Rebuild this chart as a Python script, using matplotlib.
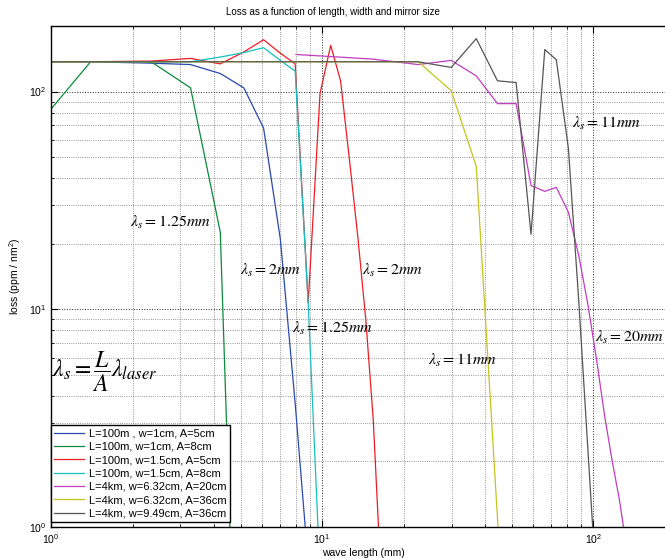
import numpy as np
import matplotlib
matplotlib.use('Agg')
import matplotlib.pyplot as plt

plt.rcParams['font.family'] = ['Liberation Sans', 'DejaVu Sans']
plt.rcParams['mathtext.fontset'] = 'custom'
plt.rcParams['mathtext.rm'] = 'Liberation Sans'
plt.rcParams['mathtext.it'] = 'Liberation Sans:italic'

# wavelength grids (mm)
x_100m = [0.47, 1.40, 2.34, 3.27, 4.21, 5.14, 6.08, 7.01, 7.95, 8.88,
          9.82, 10.75, 11.69, 12.62, 13.56, 14.49, 15.43, 16.36]
x_4km = [0.7, 8.0, 15.3, 22.6, 29.9, 37.0, 44.3, 51.9, 58.9, 66.2,
         73.0, 80.9, 88.3, 95.6, 102.9, 110.2, 117.5, 124.8, 132.1]

# loss (ppm / nm^2)
loss_blue = [137, 137, 135, 133, 121, 104, 68, 21, 3.7, 0.68]
loss_green = [27, 137, 137, 104, 22.6, 0.011]
loss_red = [137, 137, 138, 142, 134, 152, 173, 150, 134, 10.7,
            98, 163, 112, 48, 21, 8.9, 3.1, 0.7]
loss_cyan = [137, 137, 137, 137, 144, 151, 159, 139, 124, 10.7, 0.6]
loss_magenta = [148, 141, 133, 139, 118, 88, 88, 37, 34.8, 36.3,
                27.9, 17.7, 10.4, 5.8, 3.2, 1.99, 1.33, 0.83]
loss_yellow = [137, 137, 137, 137, 101, 45.3, 1.1, 0.03]
loss_gray = [137, 137, 137, 137, 129, 175, 112, 110, 22.1, 156,
             140, 54.8, 11, 2.2, 0.5]

labels = ['L=100m , w=1cm, A=5cm', 'L=100m, w=1cm, A=8cm',
          'L=100m, w=1.5cm, A=5cm', 'L=100m, w=1.5cm, A=8cm',
          'L=4km, w=6.32cm, A=20cm', 'L=4km, w=6.32cm, A=36cm',
          'L=4km, w=9.49cm, A=36cm']

series = [
    (x_100m[:len(loss_blue)], loss_blue, '#2a48b0'),
    (x_100m[:len(loss_green)], loss_green, '#0a8a3a'),
    (x_100m[:len(loss_red)], loss_red, '#ee1c24'),
    (x_100m[:len(loss_cyan)], loss_cyan, '#16c0c0'),
    (x_4km[1:1 + len(loss_magenta)], loss_magenta, '#c03cc0'),
    (x_4km[:len(loss_yellow)], loss_yellow, '#c4c41c'),
    (x_4km[:len(loss_gray)], loss_gray, '#555555'),
]

fig = plt.figure(figsize=(6.65, 5.58), dpi=100)
ax = fig.add_axes([51 / 665, 31 / 558, 624 / 665, 501 / 558])

for (xs, ys, c), lab in zip(series, labels):
    ax.plot(xs, ys, color=c, lw=0.9, label=lab)

ax.set_xscale('log')
ax.set_yscale('log')
ax.set_xlim(1, 200)
ax.set_ylim(1, 200)

ax.grid(True, which='major', linestyle=':', color='0.15', lw=0.7)
ax.grid(True, which='minor', linestyle=':', color='0.45', lw=0.6)
ax.tick_params(which='both', direction='in', top=True, right=True, labelsize=7.5)
ax.tick_params(which='major', length=5)
ax.tick_params(which='minor', length=2.5)
for s in ax.spines.values():
    s.set_linewidth(1.0)

ax.set_xlabel('wave length (mm)', fontsize=7.5, labelpad=2)
ax.set_ylabel('loss (ppm / nm$^2$)', fontsize=7.5, labelpad=4)
fig.text(0.5, 1 - 12 / 558, 'Loss as a function of length, width and mirror size',
         ha='center', va='center', fontsize=7)

tk = dict(fontsize=11.5, ha='left', va='center', math_fontfamily='stix')
ax.text(1.96, 25.0, r'$\lambda_s = 1.25mm$', **tk)
ax.text(4.98, 15.1, r'$\lambda_s = 2mm$', **tk)
ax.text(14.0, 15.1, r'$\lambda_s = 2mm$', **tk)
ax.text(7.75, 8.18, r'$\lambda_s = 1.25mm$', **tk)
ax.text(24.6, 5.84, r'$\lambda_s = 11mm$', **tk)
ax.text(83.7, 71.3, r'$\lambda_s = 11mm$', **tk)
ax.text(101.0, 7.44, r'$\lambda_s = 20mm$', **tk)
ax.text(1.01, 5.14, r'$\lambda_s = \dfrac{L}{A}\lambda_{laser}$',
        fontsize=17, ha='left', va='center', math_fontfamily='stix')

leg = ax.legend(loc='lower left', bbox_to_anchor=(0, 0.01), borderaxespad=0,
                fontsize=8, handlelength=2.7, labelspacing=0.3,
                fancybox=False, framealpha=1, edgecolor='k',
                borderpad=0.3, handletextpad=0.4)
leg.get_frame().set_linewidth(1.0)

fig.savefig('out.png', dpi=100)
